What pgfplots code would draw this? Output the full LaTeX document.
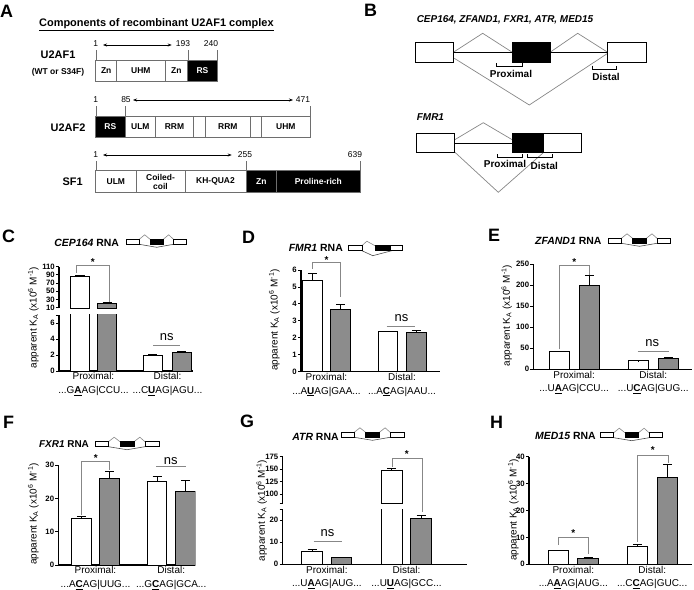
\documentclass[border=0pt]{standalone}
\usepackage{fontspec}
\setmainfont{Liberation Sans}
\usepackage{pgfplots}
\pgfplotsset{compat=1.18}
\usetikzlibrary{arrows.meta}
\definecolor{barg}{RGB}{140,140,140}
\definecolor{brk}{RGB}{135,135,135}
\definecolor{edg}{RGB}{110,110,110}
\newcommand\ul[1]{\underline{\textbf{#1}}}
\newcommand\dd{{.}{.}{.}}
\newcommand\fs[1]{\fontsize{#1}{#1}\selectfont}
\newcommand\ylab{apparent K\textsubscript{A} (x10\textsuperscript{6} M\textsuperscript{-1})}
\tikzset{seg/.style={draw=edg, line width=0.5bp}}
\newcommand\wseg[5]{\draw[seg, fill=white] (#1,#3) rectangle (#2,#4);
  \node[font=\bfseries\fontsize{8.5}{9}\selectfont, align=center, inner sep=0] at ({(#1+#2)/2},{(#3+#4)/2}) {#5};}
\newcommand\bseg[5]{\draw[seg, fill=black] (#1,#3) rectangle (#2,#4);
  \node[font=\bfseries\fontsize{8.5}{9}\selectfont, align=center, inner sep=0, text=white] at ({(#1+#2)/2},{(#3+#4)/2}) {#5};}
\newcommand\minidiag[3]{%
\begin{scope}[shift={(#1bp,-#2bp)}, x=#3bp, y=1bp]
 \draw[brk, line width=0.6bp] (0.21,0) -- (0.30,4.5) -- (0.39,0);
 \draw[brk, line width=0.6bp] (0.61,0) -- (0.70,4.5) -- (0.78,0);
 \draw[black!70, line width=0.6bp] (0.21,-5) -- (0.5,-8) -- (0.78,-5);
 \draw[line width=0.6bp, fill=white] (0,0) rectangle (0.21,-5);
 \draw[line width=0.6bp, fill=black] (0.39,0) rectangle (0.61,-5);
 \draw[line width=0.6bp, fill=white] (0.78,0) rectangle (1,-5);
\end{scope}}
\newcommand\minidiagF[3]{%
\begin{scope}[shift={(#1bp,-#2bp)}, x=#3bp, y=1bp]
 \draw[brk, line width=0.6bp] (0.25,0) -- (0.34,4.5) -- (0.49,0);
 \draw[black!70, line width=0.6bp] (0.25,-5) -- (0.45,-10) -- (0.8,-5);
 \draw[line width=0.6bp, fill=white] (0,0) rectangle (0.25,-5);
 \draw[line width=0.6bp, fill=black] (0.49,0) rectangle (0.77,-5);
 \draw[line width=0.6bp, fill=white] (0.77,0) rectangle (1,-5);
\end{scope}}
\pgfplotsset{
 kp/.style={scale only axis, anchor=south west, axis x line*=bottom, axis y line*=left,
   axis line style={line width=1.1bp, black}, tick style={black, line width=0.9bp},
   major tick length=3bp, tick align=outside, xtick style={draw=none}, xmin=0,
   clip mode=individual, /pgf/number format/assume math mode=true,
   yticklabel style={font=\bfseries\fs{7.8}, inner sep=1bp},
   xticklabel style={font=\fontsize{10}{13.5}\selectfont, align=center, inner sep=0pt, yshift=1.5bp}},
 wbar/.style={ybar, bar shift=0pt, fill=white, draw=black, line width=1bp,
   /pgfplots/error bars/y dir=plus, /pgfplots/error bars/y explicit,
   /pgfplots/error bars/error mark=|,
   /pgfplots/error bars/error bar style={line width=0.9bp, black, solid},
   /pgfplots/error bars/error mark options={line width=0.9bp, black, mark size=4.5bp}},
 gbar/.style={wbar, fill=barg},
 pbar/.style={ybar, bar shift=0pt, draw=black, line width=1bp},
}
\tikzset{bk/.style={brk, line width=0.7bp}, st/.style={font=\bfseries\fs{10}}, ns/.style={font=\fs{13}}}
\begin{document}
\begin{tikzpicture}
\useasboundingbox (0,0) rectangle (694bp,-590bp);
% ---------------- Panel A and B ----------------
\begin{scope}[x=1bp, y=-1bp]
\node[anchor=west, font=\bfseries\fs{18}, inner sep=0] at (0,11) {A};
\node[anchor=west, font=\bfseries\fs{11}, inner sep=0] at (39,25) {\underline{Components of recombinant U2AF1 complex}};
% U2AF1
\node[font=\bfseries\fs{11}] at (58,55) {U2AF1};
\node[font=\bfseries\fs{8.5}] at (58,72) {(WT or S34F)};
\wseg{95.7}{116.7}{60}{81}{Zn}
\wseg{116.7}{165}{60}{81}{UHM}
\wseg{165}{187.7}{60}{81}{Zn}
\bseg{187.7}{217.3}{60}{81}{RS}
\node[font=\fs{8.5}] at (95.7,44) {1};
\node[font=\fs{8.5}] at (183,44) {193};
\node[font=\fs{8.5}] at (211,44) {240};
\draw[{Stealth[length=4bp]}-{Stealth[length=4bp]}, line width=0.6bp] (103,45) -- (171.7,45);
\draw[edg, line width=0.4bp] (95.7,50) -- (95.7,60) (187.7,50) -- (187.7,60) (217.3,50) -- (217.3,60);
% U2AF2
\node[font=\bfseries\fs{11}] at (68,127.7) {U2AF2};
\bseg{95.7}{125}{116}{137.7}{RS}
\wseg{125}{155.7}{116}{137.7}{ULM}
\wseg{155.7}{193.3}{116}{137.7}{RRM}
\wseg{193.3}{205.7}{116}{137.7}{}
\wseg{205.7}{250}{116}{137.7}{RRM}
\wseg{250}{261.7}{116}{137.7}{}
\wseg{261.7}{310}{116}{137.7}{UHM}
\node[font=\fs{8.5}] at (95.7,100) {1};
\node[font=\fs{8.5}] at (126,100) {85};
\node[font=\fs{8.5}] at (303,100) {471};
\draw[{Stealth[length=4bp]}-{Stealth[length=4bp]}, line width=0.6bp] (133,100) -- (293,100);
\draw[edg, line width=0.4bp] (95.7,106) -- (95.7,116) (125,106) -- (125,116) (310,106) -- (310,116);
% SF1
\node[font=\bfseries\fs{11}] at (72.7,181.7) {SF1};
\wseg{95.7}{136}{170.7}{192.7}{ULM}
\wseg{136}{185}{170.7}{192.7}{Coiled-\\coil}
\wseg{185}{246}{170.7}{192.7}{KH-QUA2}
\bseg{246}{276.7}{170.7}{192.7}{Zn}
\bseg{276.7}{360}{170.7}{192.7}{Proline-rich}
\node[font=\fs{8.5}] at (95.7,155) {1};
\node[font=\fs{8.5}] at (245,155) {255};
\node[font=\fs{8.5}] at (355,155) {639};
\draw[{Stealth[length=4bp]}-{Stealth[length=4bp]}, line width=0.6bp] (103,155) -- (231.7,155);
\draw[edg, line width=0.4bp] (95.7,161) -- (95.7,170.7) (246,161) -- (246,170.7) (360,161) -- (360,170.7);
% ---------------- Panel B ----------------
\node[anchor=west, font=\bfseries\fs{18}, inner sep=0] at (364,10) {B};
\node[font=\bfseries\itshape\fs{10}] at (505,20) {CEP164, ZFAND1, FXR1, ATR, MED15};
\draw[brk, line width=0.7bp] (453.3,52.3) -- (482.7,33.3) -- (512.3,52.3);
\draw[brk, line width=0.7bp] (550,52.3) -- (577.7,33.3) -- (607.7,52.3);
\draw[brk, line width=0.7bp] (454.3,58.3) -- (529.3,105) -- (607.7,53.3);
\draw[line width=1.3bp] (453.3,52.5) -- (512.3,52.5) (550,52.5) -- (607.7,52.5);
\draw[line width=0.6bp, fill=white] (415,42.7) rectangle (453.3,62.3);
\draw[line width=0.6bp, fill=black] (512.3,42.7) rectangle (550,62.3);
\draw[line width=0.6bp, fill=white] (607.7,42.7) rectangle (646,62.3);
\draw[line width=0.7bp] (496.7,63.3) -- (496.7,66.7) -- (522.3,66.7) -- (522.3,63.3);
\node[font=\bfseries\fs{10}] at (511,74) {Proximal};
\draw[line width=0.7bp] (592.3,65.7) -- (592.3,69) -- (616.7,69) -- (616.7,65.7);
\node[font=\bfseries\fs{10}] at (606,76.7) {Distal};
\node[anchor=west, font=\bfseries\itshape\fs{10}, inner sep=0] at (416.7,116.7) {FMR1};
\draw[brk, line width=0.7bp] (454.3,140) -- (483.3,122.7) -- (512.7,140);
\draw[brk, line width=0.7bp] (454.3,151.7) -- (498.3,192.3) -- (543.3,152.7);
\draw[line width=1.3bp] (454.3,143.3) -- (512.7,143.3);
\draw[line width=0.6bp, fill=white] (416,133.3) rectangle (454.3,152.7);
\draw[line width=0.6bp, fill=black] (512.7,133.3) rectangle (543.3,152.7);
\draw[line width=0.6bp, fill=white] (543.3,133.3) rectangle (581.7,152.7);
\draw[line width=0.7bp] (497.7,154) -- (497.7,157.5) -- (522.7,157.5) -- (522.7,154);
\node[font=\bfseries\fs{10}] at (505,164.3) {Proximal};
\draw[line width=0.7bp] (527.7,154) -- (527.7,157.5) -- (552.3,157.5) -- (552.3,154);
\node[font=\bfseries\fs{10}] at (544.3,165.7) {Distal};
% ---------------- panel letters, titles, y labels ----------------
\node[anchor=west, font=\bfseries\fs{18}, inner sep=0] at (2,236) {C};
\node[anchor=west, font=\bfseries\fs{18}, inner sep=0] at (242,237) {D};
\node[anchor=west, font=\bfseries\fs{18}, inner sep=0] at (488,235) {E};
\node[anchor=west, font=\bfseries\fs{18}, inner sep=0] at (3,422.5) {F};
\node[anchor=west, font=\bfseries\fs{18}, inner sep=0] at (240,421.5) {G};
\node[anchor=west, font=\bfseries\fs{18}, inner sep=0] at (490,422) {H};
\node[font=\bfseries\fs{10.5}] at (86.7,243.3) {\textit{CEP164} RNA};
\node[font=\bfseries\fs{10.5}] at (315.8,247.7) {\textit{FMR1} RNA};
\node[font=\bfseries\fs{10.5}] at (568.3,241) {\textit{ZFAND1} RNA};
\node[font=\bfseries\fs{10}] at (64,444) {\textit{FXR1} RNA};
\node[font=\bfseries\fs{10.5}] at (315.5,436.7) {\textit{ATR} RNA};
\node[font=\bfseries\fs{10.5}] at (565.5,436) {\textit{MED15} RNA};
\node[rotate=90, font=\fs{10}] at (33.3,317.5) {\ylab};
\node[rotate=90, font=\fs{10}] at (274.3,320) {\ylab};
\node[rotate=90, font=\fs{10}] at (506.7,315.5) {\ylab};
\node[rotate=90, font=\fs{10}] at (33.3,514) {\ylab};
\node[rotate=90, font=\fs{10}] at (261.7,510.5) {\ylab};
\node[rotate=90, font=\fs{10}] at (513.3,510) {\ylab};
\end{scope}
\minidiag{126.7}{239.3}{60}
\minidiagF{348.3}{245.7}{54.4}
\minidiag{608.3}{238.3}{62.4}
\minidiag{95}{441.7}{64}
\minidiag{341}{432.3}{63}
\minidiag{600.7}{432.7}{62}
% ---------------- Panel C ----------------
\begin{axis}[kp, at={(59bp,-371bp)}, width=134bp, height=56bp, xmax=134, ymin=0, ymax=7,
  ytick={0,2,4,6}, extra y ticks={7}, extra y tick labels={},
  xtick={34.5,108.5}, xticklabels={{Proximal:\\\dd G\ul{A}AG|CCU\dd},{Distal:\\\dd C\ul{U}AG|AGU\dd}}]
\addplot[pbar, fill=white, bar width=19, restrict y to domain*=0:7.6] coordinates {(21,85)};
\addplot[pbar, fill=barg, bar width=19, restrict y to domain*=0:7.6] coordinates {(48.2,21)};
\addplot[wbar, bar width=19] coordinates {(93.8,2.0) +- (0,0.1)};
\addplot[gbar, bar width=19] coordinates {(122.7,2.3) +- (0,0.15)};
\draw[bk] (axis cs:94.3,3.2) -- (axis cs:121,3.2);
\node[ns] at (axis cs:107.7,4.3) {ns};
\end{axis}
\begin{axis}[kp, at={(59bp,-308.3bp)}, width=134bp, height=41.6bp, xmax=134, ymin=8.5, ymax=110,
  ytick={10,30,50,70,90,110}, axis x line=none, xtick=\empty]
\addplot[wbar, bar width=19] coordinates {(21,85) +- (0,4)};
\addplot[gbar, bar width=19] coordinates {(48.2,21) +- (0,1.5)};
\draw[bk] (axis cs:17,95.4) -- (axis cs:17,112.4) -- (axis cs:50.3,112.4) -- (axis cs:50.3,24.5);
\node[st] at (axis cs:33.7,121) {*};
\end{axis}
% ---------------- Panel D ----------------
\begin{axis}[kp, at={(301bp,-371.7bp)}, width=139bp, height=101.7bp, xmax=139, ymin=0, ymax=6,
  ytick={0,1,2,3,4,5,6},
  xtick={25.5,101}, xticklabels={{Proximal:\\\dd A\ul{U}AG|GAA\dd},{Distal:\\\dd A\ul{C}AG|AAU\dd}}]
\addplot[wbar, bar width=19.5] coordinates {(11.3,5.4) +- (0,0.4) (87,2.35) +- (0,0.05)};
\addplot[gbar, bar width=19.5] coordinates {(39.7,3.65) +- (0,0.3) (115.3,2.3) +- (0,0.15)};
\draw[bk] (axis cs:11.3,6.05) -- (axis cs:11.3,6.43) -- (axis cs:39.7,6.43) -- (axis cs:39.7,4.42);
\node[st] at (axis cs:25.5,6.6) {*};
\draw[bk] (axis cs:85.7,2.65) -- (axis cs:114,2.65);
\node[ns] at (axis cs:100.5,3.15) {ns};
\end{axis}
% ---------------- Panel E ----------------
\begin{axis}[kp, at={(533.3bp,-369.3bp)}, width=158.7bp, height=105bp, xmax=158.7, ymin=0, ymax=250,
  ytick={0,50,100,150,200,250},
  xtick={40.9,120}, xticklabels={{Proximal:\\\dd U\ul{A}AG|CCU\dd},{Distal:\\\dd U\ul{C}AG|GUG\dd}}]
\addplot[wbar, bar width=20.5] coordinates {(26.2,42) +- (0,1) (105.4,20) +- (0,0.5)};
\addplot[gbar, bar width=20.5] coordinates {(56,200) +- (0,24) (135,26) +- (0,1.5)};
\draw[bk] (axis cs:26,47.6) -- (axis cs:26,248.6) -- (axis cs:55.7,248.6) -- (axis cs:55.7,224.5);
\node[st] at (axis cs:41,256) {*};
\draw[bk] (axis cs:104.4,42) -- (axis cs:135.7,42);
\node[ns] at (axis cs:119,62) {ns};
\end{axis}
% ---------------- Panel F ----------------
\begin{axis}[kp, at={(58.3bp,-565bp)}, width=137bp, height=100bp, xmax=137, ymin=0, ymax=30,
  ytick={0,10,20,30},
  xtick={37.2,112.9}, xticklabels={{Proximal:\\\dd A\ul{C}AG|UUG\dd},{Distal:\\\dd G\ul{C}AG|GCA\dd}}]
\addplot[wbar, bar width=19.5] coordinates {(23,14.0) +- (0,0.5) (98.7,25.0) +- (0,1.7)};
\addplot[gbar, bar width=19.5] coordinates {(51.4,26.0) +- (0,2.2) (127,22.0) +- (0,3.5)};
\draw[bk] (axis cs:22.7,15) -- (axis cs:22.7,31) -- (axis cs:51,31) -- (axis cs:51,28.5);
\node[st] at (axis cs:37.4,32.1) {*};
\draw[bk] (axis cs:97.7,29.5) -- (axis cs:127.4,29.5);
\node[ns] at (axis cs:112.4,31.2) {ns};
\end{axis}
% ---------------- Panel G ----------------
\begin{axis}[kp, at={(282.5bp,-564.3bp)}, width=184.4bp, height=55bp, xmax=184.4, ymin=0, ymax=25,
  ytick={0,10,20}, extra y ticks={25}, extra y tick labels={},
  xtick={44.4,124}, xticklabels={{Proximal:\\\dd U\ul{A}AG|AUG\dd},{Distal:\\\dd U\ul{U}AG|GCC\dd}}]
\addplot[wbar, bar width=20.5] coordinates {(29.7,6.0) +- (0,0.9)};
\addplot[pbar, fill=white, bar width=20.5, restrict y to domain*=0:26.5] coordinates {(109.4,147)};
\addplot[gbar, bar width=20.5] coordinates {(59,3.1) +- (0,0.2) (138.7,20.8) +- (0,1.5)};
\draw[bk] (axis cs:109.4,44.4) -- (axis cs:109.4,48.2) -- (axis cs:139.4,48.2) -- (axis cs:139.4,23.8);
\node[st] at (axis cs:124.4,50) {*};
\draw[bk] (axis cs:31,10.3) -- (axis cs:59.4,10.3);
\node[ns] at (axis cs:45,14.1) {ns};
\end{axis}
\begin{axis}[kp, at={(282.5bp,-503.3bp)}, width=184.4bp, height=46.6bp, xmax=184.4, ymin=82, ymax=175,
  ytick={100,125,150,175}, extra y ticks={82}, extra y tick labels={}, axis x line=none, xtick=\empty]
\addplot[wbar, bar width=20.5] coordinates {(109.4,147) +- (0,5)};
\end{axis}
% ---------------- Panel H ----------------
\begin{axis}[kp, at={(529bp,-564.3bp)}, width=163bp, height=107.6bp, xmax=163, ymin=0, ymax=40,
  ytick={0,10,20,30,40},
  xtick={44.3,123.2}, xticklabels={{Proximal:\\\dd A\ul{A}AG|AUG\dd},{Distal:\\\dd C\ul{C}AG|GUC\dd}}]
\addplot[wbar, bar width=20.5] coordinates {(29.7,5.0) +- (0,0.3) (108.5,6.7) +- (0,0.5)};
\addplot[gbar, bar width=20.5] coordinates {(59,2.2) +- (0,0.2) (138.5,32.2) +- (0,5)};
\draw[bk] (axis cs:29.3,7.2) -- (axis cs:29.3,9.9) -- (axis cs:59.3,9.9) -- (axis cs:59.3,3.7);
\node[st] at (axis cs:44.3,11.6) {*};
\draw[bk] (axis cs:108.3,8.4) -- (axis cs:108.3,40.6) -- (axis cs:139.3,40.6) -- (axis cs:139.3,37.5);
\node[st] at (axis cs:123.7,42.6) {*};
\end{axis}
\end{tikzpicture}
\end{document}
